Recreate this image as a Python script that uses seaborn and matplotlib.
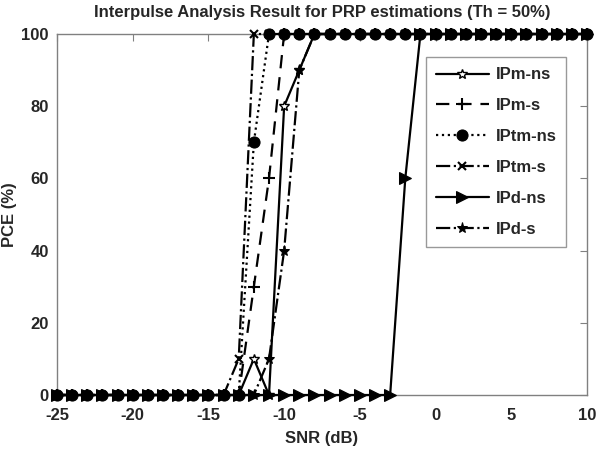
import numpy as np
import pandas as pd
import matplotlib
matplotlib.use("Agg")
import matplotlib.pyplot as plt
import seaborn as sns

snr = list(range(-25, 11))
# values per SNR (-25..10)
ipm_ns  = [0]*13 + [10, 0, 80, 90] + [100]*19
ipm_s   = [0]*13 + [30, 60, 100, 100] + [100]*19
iptm_ns = [0]*13 + [70, 100, 100, 100] + [100]*19
iptm_s  = [0]*12 + [10, 100, 100, 100, 100] + [100]*19
ipd_ns  = [0]*23 + [60, 100] + [100]*11
ipd_s   = [0]*14 + [10, 40, 90] + [100]*19
names = ["IPm-ns", "IPm-s", "IPtm-ns", "IPtm-s", "IPd-ns", "IPd-s"]
values = [ipm_ns, ipm_s, iptm_ns, iptm_s, ipd_ns, ipd_s]

styles = [
    dict(linestyle="-", marker="*", markersize=7, markerfacecolor="white", markeredgewidth=1.0, zorder=3),
    dict(linestyle=(0, (6, 4)), marker="+", markersize=9, markeredgewidth=1.5, zorder=3),
    dict(linestyle=":", marker="o", markersize=8, zorder=5),
    dict(linestyle="-.", marker="x", markersize=6, markeredgewidth=1.5, zorder=3),
    dict(linestyle="-", marker=">", markersize=8, zorder=4),
    dict(linestyle="-.", marker="*", markersize=8, zorder=3),
]

sns.set_style("white")
plt.rcParams['font.family'] = ['Liberation Sans', 'DejaVu Sans']
plt.rcParams['font.weight'] = 'bold'
plt.rcParams['axes.unicode_minus'] = False

fig = plt.figure(figsize=(5.96, 4.5), dpi=100)
ax = fig.add_axes([57/596, 1-395/450, (587-57)/596, (395-34)/450])

for name, vals, st in zip(names, values, styles):
    sns.lineplot(x=snr, y=vals, ax=ax, color="black", linewidth=1.6,
                 label=name, markeredgecolor="black", clip_on=False, **st)

ax.set_xlim(-25, 10)
ax.set_ylim(0, 100)
ax.set_xticks(range(-25, 11, 5))
ax.set_yticks(range(0, 101, 20))
for s in ax.spines.values():
    s.set_color("#808080")
    s.set_linewidth(1.0)
ax.tick_params(direction="in", length=5, color="#808080", top=True, right=True,
               labelsize=12)
ax.tick_params(axis="x", pad=9)
ax.tick_params(axis="y", pad=6)
for lbl in ax.get_xticklabels() + ax.get_yticklabels():
    lbl.set_fontweight("bold")
ax.set_title("Interpulse Analysis Result for PRP estimations (Th = 50%)",
             fontsize=12, fontweight="bold", pad=12)
ax.set_xlabel("SNR (dB)", fontsize=12, fontweight="bold", labelpad=6)
ax.set_ylabel("PCE (%)", fontsize=12, fontweight="bold", labelpad=3)

leg = ax.legend(loc="upper right", bbox_to_anchor=(0.977, 0.958), frameon=True,
                fancybox=False, edgecolor="#808080", fontsize=12, handlelength=3.2,
                labelspacing=0.95, borderpad=0.6, handletextpad=0.4)
leg.set_zorder(10)
for t in leg.get_texts():
    t.set_fontweight("bold")
leg.get_frame().set_linewidth(1.0)

fig.savefig("out.png", dpi=100)
